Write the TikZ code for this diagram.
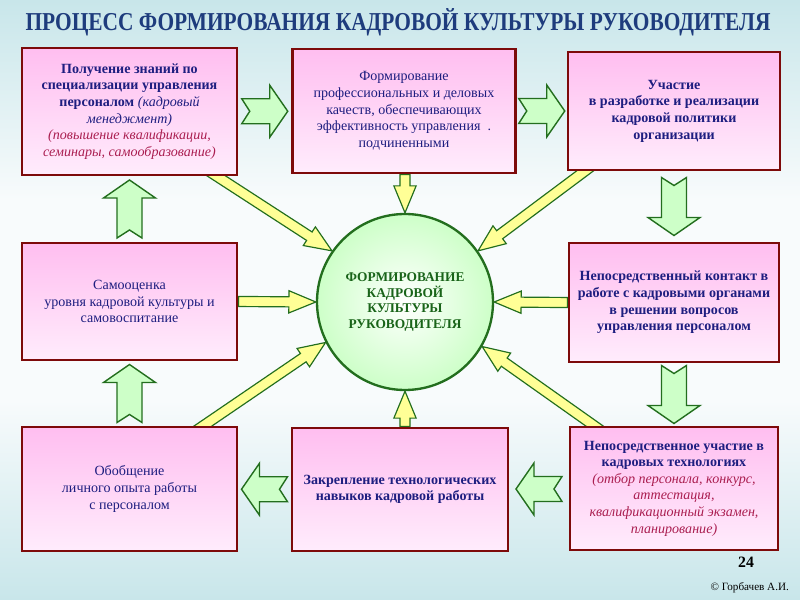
\documentclass[tikz,border=0pt]{standalone}
\usepackage{fontspec}
\setmainfont{Liberation Serif}
\usetikzlibrary{calc}
\usetikzlibrary{positioning}
\usetikzlibrary{backgrounds}
\definecolor{navy}{RGB}{30,30,128}
\definecolor{crimson}{RGB}{170,30,80}
\definecolor{boxline}{RGB}{125,10,10}
\definecolor{leaf}{RGB}{35,110,30}
\definecolor{hubtext}{RGB}{25,100,25}
\definecolor{pale}{RGB}{255,255,150}
\definecolor{mint}{RGB}{205,255,200}
\definecolor{titleblue}{RGB}{30,60,125}
\definecolor{sky}{RGB}{200,230,234}
\definecolor{mist}{RGB}{248,251,252}
\definecolor{blush}{RGB}{255,190,240}
\definecolor{blushlow}{RGB}{255,236,252}
\tikzstyle{card}=[draw=boxline, line width=2.5pt, top color=blush, bottom color=blushlow,
  text=navy, align=center, inner sep=0pt, font=\fontsize{12}{14.2}\selectfont]
\tikzstyle{strong}=[font=\fontsize{12}{14.2}\selectfont\bfseries]
\tikzstyle{core}=[circle, draw=leaf, line width=2pt, inner color=white, outer color=mint,
  minimum size=5.28cm, inner sep=0pt, align=center, text=hubtext,
  font=\fontsize{11.4}{13.4}\selectfont\bfseries]
\tikzstyle{bigarrow}=[draw=leaf, line width=1.2pt, fill=mint, line join=miter]
\tikzstyle{feeder}=[draw=leaf, line width=1pt, fill=pale, line join=miter]
\newcommand\feed[2]{
  \coordinate (hb) at ($(#2)!23pt!(#1)$);
  \draw[feeder] ($(#1)!4.3pt!90:(#2)$) -- ($(hb)!4.3pt!90:(#2)$) -- ($(hb)!9.5pt!90:(#2)$)
    -- (#2) -- ($(hb)!9.5pt!-90:(#2)$) -- ($(hb)!4.3pt!-90:(#2)$) -- ($(#1)!4.3pt!-90:(#2)$) -- cycle;
}

\begin{document}
\begin{tikzpicture}[x=0.03cm, y=-0.03cm]
  \useasboundingbox (0,0) rectangle (800,600);
  \begin{scope}[on background layer]
    \shade[top color=sky, bottom color=mist] (0,0) rectangle (800,200);
    \fill[mist] (0,200) rectangle (800,400);
    \shade[top color=mist, bottom color=sky] (0,400) rectangle (800,600);
  \end{scope}

  \node[text=titleblue, xscale=0.83, font=\fontsize{22}{22}\selectfont\bfseries] (title) at (398,22)
    {ПРОЦЕСС ФОРМИРОВАНИЯ КАДРОВОЙ КУЛЬТУРЫ РУКОВОДИТЕЛЯ};

  \node[card, minimum width=6.45cm, minimum height=3.81cm] (tl) at (129.5,111.5)
    {\textbf{Получение знаний по}\\ \textbf{специализации управления}\\
     \textbf{персоналом} \textit{(кадровый}\\ \textit{менеджмент)}\\
     \textcolor{crimson}{\textit{(повышение квалификации,}}\\
     \textcolor{crimson}{\textit{семинары, самообразование)}}};
  \node[card, minimum width=6.69cm, minimum height=3.72cm] (tc) at (404,111)
    {Формирование\\ профессиональных и деловых\\ качеств, обеспечивающих\\
     эффективность управления~~.\\ подчиненными};
  \node[card, strong, minimum width=6.36cm, minimum height=3.54cm] (tr) at (674,111)
    {Участие\\ в разработке и реализации\\ кадровой политики\\ организации};
  \node[card, minimum width=6.45cm, minimum height=3.51cm] (ml) at (129.5,301.5)
    {Самооценка\\ уровня кадровой культуры и\\ самовоспитание};
  \node[core] (hub) at (405,302) {ФОРМИРОВАНИЕ\\ КАДРОВОЙ\\ КУЛЬТУРЫ\\ РУКОВОДИТЕЛЯ};
  \node[card, strong, minimum width=6.30cm, minimum height=3.57cm] (mr) at (674,302.5)
    {Непосредственный контакт в\\ работе с кадровыми органами\\ в решении вопросов\\ управления персоналом};
  \node[card, minimum width=6.45cm, minimum height=3.72cm] (bl) at (129.5,489)
    {Обобщение\\ личного опыта работы\\ с персоналом};
  \node[card, strong, minimum width=6.48cm, minimum height=3.69cm] (bc) at (400,489.5)
    {Закрепление технологических\\ навыков кадровой работы};
  \node[card, minimum width=6.24cm, minimum height=3.69cm] (br) at (674,488.5)
    {\textbf{Непосредственное участие в}\\ \textbf{кадровых технологиях}\\
     \textcolor{crimson}{\textit{(отбор персонала, конкурс,}}\\
     \textcolor{crimson}{\textit{аттестация,}}\\
     \textcolor{crimson}{\textit{квалификационный экзамен,}}\\
     \textcolor{crimson}{\textit{планирование)}}};

  \node[font=\fontsize{13.5}{14}\selectfont\bfseries] (page) at (746,562) {24};
  \node[anchor=east, font=\fontsize{9.5}{10}\selectfont] (author) at (793,588) {© Горбачев А.И.};

  \coordinate (tlout) at ($(tl.south west)!0.86!(tl.south east)+(0,-6)$);
  \coordinate (trout) at ($(tr.south west)!0.12!(tr.south east)+(0,-6)$);
  \coordinate (blout) at ($(bl.north west)!0.8!(bl.north east)+(0,6)$);
  \coordinate (brout) at ($(br.north west)!0.16!(br.north east)+(0,6)$);
  \coordinate (tcout) at (tc.south -| hub.north);
  \coordinate (bcout) at (bc.north -| hub.south);
  \begin{scope}[on background layer]
    \feed{tlout}{hub.145}
    \feed{tcout}{hub.north}
    \feed{trout}{hub.35}
    \feed{ml.east}{hub.west}
    \feed{mr.west}{hub.east}
    \feed{blout}{hub.207}
    \feed{bcout}{hub.south}
    \feed{brout}{hub.-30}
  \end{scope}

  \coordinate (step1) at ($(tl.east)!0.5!(tc.west)$);
  \coordinate (step2) at ($(tc.east)!0.5!(tr.west)$);
  \coordinate (step3) at ($(tr.south)!0.5!(mr.north)$);
  \coordinate (step4) at ($(mr.south)!0.5!(br.north)$);
  \coordinate (step5) at ($(br.west)!0.5!(bc.east)$);
  \coordinate (step6) at ($(bc.west)!0.5!(bl.east)$);
  \coordinate (step7) at ($(bl.north)!0.5!(ml.south)$);
  \coordinate (step8) at ($(ml.north)!0.5!(tl.south)$);
  \foreach \p/\a/\l in {step1/0/23, step2/0/23, step3/-90/29, step4/-90/29,
                        step5/180/23, step6/180/23, step7/90/29, step8/90/29}
    \draw[bigarrow, shift={(\p)}, rotate=\a]
      (-\l,-12.5) -- (\l-18,-12.5) -- (\l-18,-26) -- (\l,0) -- (\l-18,26)
      -- (\l-18,12.5) -- (-\l,12.5) -- (-\l+8,0) -- cycle;
\end{tikzpicture}
\end{document}
